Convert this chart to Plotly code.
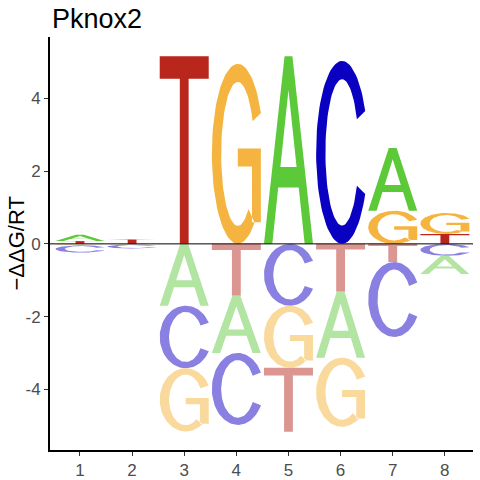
"""
Logo d'énergie (ddG) pour Pknox2 : lettres empilées au-dessus / en dessous
de zéro, hauteur = contribution de chaque base par position.
"""

import numpy as np
import plotly.graph_objects as go

# valeurs (-ddG/RT, signées)
positions = [1, 2, 3, 4, 5, 6, 7, 8]
ddg_A = [0.17, 0.0, -1.70, -1.57, 5.16, -1.81, 1.73, -0.50]
ddg_C = [-0.20, -0.11, -1.72, -1.98, -1.70, 5.03, -2.06, -0.33]
ddg_G = [-0.04, -0.02, -1.74, 4.95, -1.71, -1.90, 0.91, 0.58]
ddg_T = [0.08, 0.13, 5.16, -1.43, -1.76, -1.32, -0.50, 0.27]
y_ticks = [-4, -2, 0, 2, 4]
y_ticktext = ["-4", "-2", "0", "2", "4"]

COL_POS = {"A": "#5CC938", "C": "#0A00C2", "G": "#F5B43F", "T": "#B9261C"}
COL_NEG = {"A": "#B2E4A2", "C": "#8A80E2", "G": "#FAD99C", "T": "#DC9691"}
HALF_W = 0.47

W = H = 480


def ring(a0, a1, cx=0.53, rx=0.53, ry=0.5, tx=0.19, ty=0.1, n=80):
    t = np.radians(np.linspace(a0, a1, n))
    xo = cx + rx * np.cos(t)
    yo = 0.5 + ry * np.sin(t)
    xi = cx + (rx - tx) * np.cos(t[::-1])
    yi = 0.5 + (ry - ty) * np.sin(t[::-1])
    return list(xo) + list(xi), list(yo) + list(yi)


def glyph(letter):
    """polygones normalisés [0,1]x[0,1] pour chaque lettre"""
    if letter == "T":
        return [([0.41, 0.59, 0.59, 1, 1, 0, 0, 0.41],
                 [0, 0, 0.88, 0.88, 1, 1, 0.88, 0.88])]
    if letter == "A":
        return [([0, 0.17, 0.5, 0.83, 1, 0.58, 0.42],
                 [0, 0, 0.82, 0, 0, 1, 1]),
                ([0.22, 0.78, 0.74, 0.26], [0.30, 0.30, 0.41, 0.41])]
    if letter == "C":
        return [ring(27, 333)]
    # G
    return [ring(27, 310),
            ([0.53, 1, 1, 0.82, 0.82, 0.53], [0.53, 0.53, 0.12, 0.12, 0.43, 0.43])]


def letter_trace(letter, xc, y0, y1, color):
    xs, ys = [], []
    for px, py in glyph(letter):
        xs += [xc - HALF_W + 2 * HALF_W * v for v in px] + [None]
        ys += [y0 + (y1 - y0) * v for v in py] + [None]
    return go.Scatter(
        x=xs, y=ys, mode="lines", fill="toself",
        fillcolor=color, line=dict(width=0, color=color),
        hoverinfo="skip", showlegend=False,
    )


values = {"A": ddg_A, "C": ddg_C, "G": ddg_G, "T": ddg_T}

fig = go.Figure()
for i, pos in enumerate(positions):
    col = [(b, values[b][i]) for b in "ACGT"]
    # positifs : du plus petit (en bas) au plus grand (en haut)
    base = 0.0
    for b, v in sorted([c for c in col if c[1] > 0], key=lambda c: c[1]):
        fig.add_trace(letter_trace(b, pos, base, base + v, COL_POS[b]))
        base += v
    # négatifs : du plus petit (près de zéro) au plus grand
    base = 0.0
    for b, v in sorted([c for c in col if c[1] < 0], key=lambda c: -c[1]):
        fig.add_trace(letter_trace(b, pos, base + v, base, COL_NEG[b]))
        base += v

fig.add_shape(type="line", xref="paper", x0=0, x1=1, yref="y", y0=0, y1=0,
              line=dict(color="black", width=1), layer="above")

fig.update_layout(
    width=W, height=H,
    margin=dict(l=50, r=7, t=37, b=30),
    plot_bgcolor="white", paper_bgcolor="white",
    font=dict(family="Liberation Sans, Arial, sans-serif", color="black"),
    showlegend=False,
    title=dict(text="Pknox2", x=52 / W, xref="container", xanchor="left",
               y=1 - 19 / H, yref="container", yanchor="middle",
               font=dict(size=27, color="black")),
)
fig.update_xaxes(
    range=[0.425, 8.54], tickvals=positions, ticks="outside", ticklen=4,
    tickwidth=1.2, tickcolor="#333333", showline=True, linecolor="black",
    linewidth=2, showgrid=False, zeroline=False, automargin=False,
    tickfont=dict(size=17, color="#4D4D4D"),
)
fig.update_yaxes(
    range=[-5.67, 5.69], tickvals=y_ticks, ticktext=y_ticktext,
    ticks="outside", ticklen=4, tickwidth=1.2, tickcolor="#333333",
    showline=True, linecolor="black", linewidth=2, showgrid=False,
    zeroline=False, automargin=False, tickfont=dict(size=17, color="#4D4D4D"),
)
fig.add_annotation(
    text="−ΔΔG/RT", xref="paper", yref="paper", x=0, y=0.5,
    xanchor="center", yanchor="middle",
    xshift=-34, textangle=-90, showarrow=False,
    font=dict(size=22, color="black"),
)

# pas de marge autour de la figure dans la page, pas de barre d'outils
fig.write_html("out.html", config={"displayModeBar": False},
               post_script="document.body.style.margin = '0px';")
